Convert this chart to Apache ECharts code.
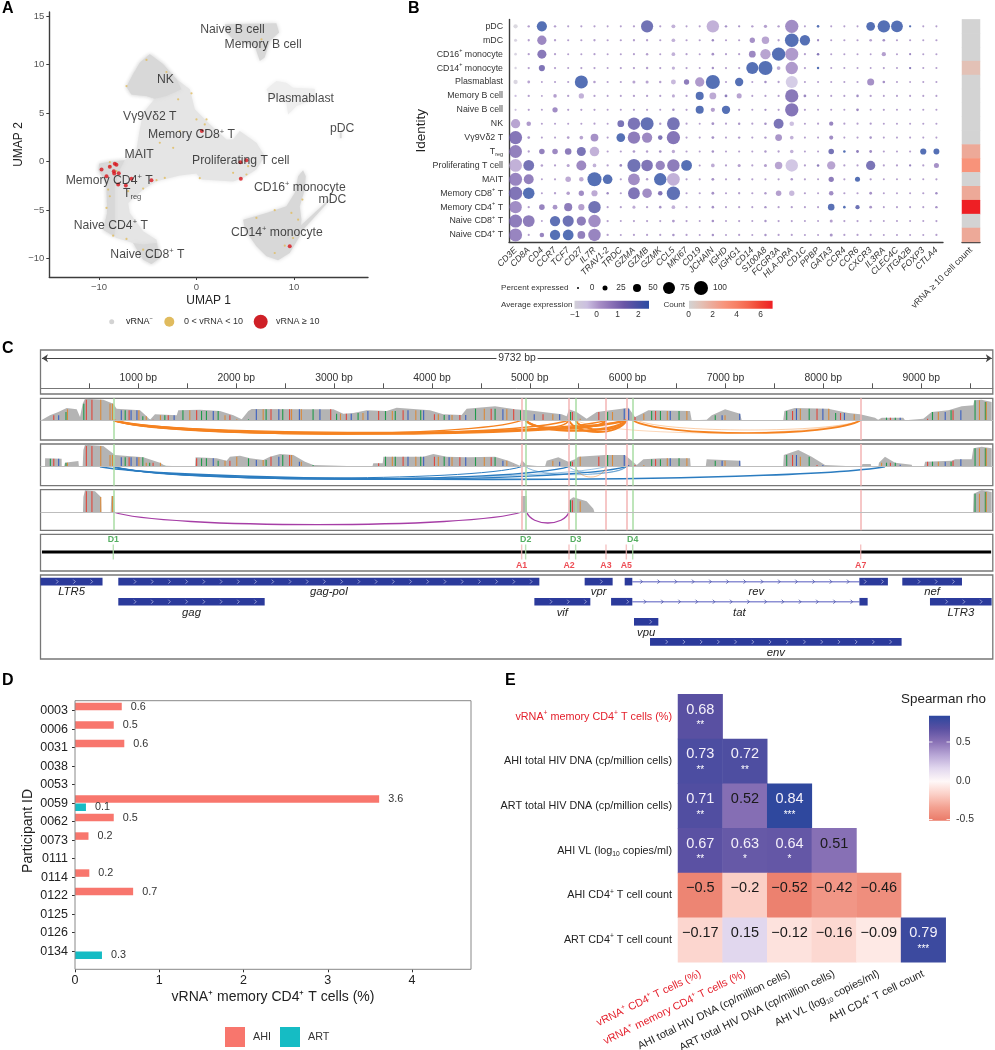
<!DOCTYPE html>
<html>
<head>
<meta charset="utf-8">
<style>
html, body { margin: 0; padding: 0; background: #fff; }
#main { width: 995px; height: 1050px; }
</style>
<script src="https://cdn.jsdelivr.net/npm/echarts@6/dist/echarts.min.js"></script>
</head>
<body>
<div id="main"></div>
<script>
var FONT = '"Liberation Sans", Arial, sans-serif';

/* ---------- panel A: UMAP ---------- */
var cloudLight = [
	[[-4.79,11.04],[-5.81,10.18],[-6.5,8.98],[-7.18,7.71],[-6.67,6.91],[-5.13,6.74],[-4.27,6.47],[-5.47,5.02],[-5.88,2.96],[-6.15,1.24],[-7.35,0.14],[-8.89,-0.03],[-9.98,-0.24],[-10.05,-0.89],[-9.23,-2.2],[-9.16,-5.3],[-9.57,-7.02],[-8.21,-7.88],[-6.5,-8.39],[-5.47,-10.11],[-4.62,-10.56],[-3.76,-9.94],[-4.1,-8.05],[-5.47,-7.19],[-6.84,-5.3],[-7.01,-4.27],[-5.47,-2.89],[-4.1,-2.03],[-1.71,-1.44],[0,-1.24],[0.51,-1.86],[3.76,-2.06],[4.79,-1.69],[6.15,-0.83],[7.01,0.55],[6.15,1.93],[4.44,3.13],[3.76,2.27],[3.08,2.27],[1.2,3.99],[-0.17,5.37],[-0.68,7.43],[-2.05,8.46],[-3.42,10.01]]
];
var cloudDense = [
	[[-4.79,11.04],[-5.81,10.18],[-6.5,8.98],[-7.18,7.71],[-6.67,6.91],[-5.13,6.74],[-4.27,6.47],[-3.08,6.74],[-1.54,7.43],[-2.05,8.46],[-3.42,10.01]],
	[[-9.98,-0.24],[-8.89,-0.03],[-7.35,0.14],[-7.86,-0.83],[-8.38,-2.55],[-8.38,-5.3],[-8.38,-7.71],[-9.57,-7.02],[-9.16,-5.3],[-9.23,-2.2],[-10.05,-0.89]],
	[[-6.5,-8.39],[-5.47,-10.11],[-4.62,-10.56],[-3.76,-9.94],[-4.1,-8.39],[-5.47,-8.56]],
	[[2.91,14.14],[8.2,14.24],[8.48,13.28],[7.52,12.42],[7.0,10.7],[6.5,10.35],[5.98,11.9],[3.76,12.59],[3.08,13.28]],
	[[10.94,-0.89],[10.43,-1.51],[10.09,-3.23],[9.23,-4.61],[7.18,-5.3],[4.79,-5.99],[4.97,-7.02],[6.15,-8.74],[7.18,-9.77],[8.38,-10.18],[9.57,-9.43],[10.6,-7.7],[10.77,-5.99],[10.6,-4.61],[11.11,-2.89],[11.21,-1.51]],
	[[10.77,-7.2],[13.7,-4.0],[13.7,-3.8],[10.6,-6.7]],
	[[14.7,3.0],[14.9,3.0],[14.9,2.4],[14.7,2.4]]
];
var cloudSparse = [
	[[7.18,7.43],[8.2,8.29],[9.23,8.12],[9.91,7.6],[12.14,7.5],[12.14,6.4],[10.26,5.71],[9.4,4.85],[9.23,6.05],[7.52,6.74]]
];
var vrnaLow = [[-5.13,10.46],[-3.08,9.22],[-7.18,7.77],[-0.51,7.02],[-1.88,6.4],[0,4.33],[1.03,4.33],[0.85,3.82],[-1.71,3.13],[-3.76,1.93],[-2.39,1.41],[-8.89,-0.07],[-8.89,-0.48],[-8.21,-1.0],[-9.06,-2.89],[-8.89,-3.58],[-9.23,-4.78],[-7.01,-3.06],[-5.47,-2.79],[-4.1,-1.93],[-3.25,-1.69],[0.34,-1.72],[3.76,-1.17],[5.13,-1.34],[5.3,-0.48],[10.87,-3.92],[10.43,-5.99],[9.74,-5.3],[8.03,-5.02],[6.15,-5.81],[9.06,-8.67],[9.91,-7.88],[8.03,-9.43],[-8.55,-7.64],[-7.18,-7.98],[-5.47,-9.08],[6.67,12.59]];
var vrnaHigh = [[-9.74,-0.83],[-8.89,-0.55],[-8.38,-0.24],[-8.21,-0.34],[-8.48,-1.0],[-8.44,-1.24],[-7.97,-1.2],[-9.23,-1.51],[-8.03,-2.37],[-6.67,-1.79],[-7.25,-2.48],[-4.62,-1.93],[0.55,3.13],[4.51,-0.07],[5.13,0.14],[4.55,-1.79],[9.57,-8.74]];
var umapLabels = [[3.69,13.55,'Naive B cell'],[6.84,12.0,'Memory B cell'],[-3.18,8.46,'NK'],[10.7,6.47,'Plasmablast'],[-4.79,4.61,'Vγ9Vδ2 T'],[14.94,3.41,'pDC'],[-0.51,2.72,'Memory CD8^+^ T'],[-5.88,0.72,'MAIT'],[4.55,0.1,'Proliferating T cell'],[-8.96,-1.93,'Memory CD4^+^ T'],[-6.6,-3.3,'T_reg_'],[10.6,-2.65,'CD16^+^ monocyte'],[13.95,-3.96,'mDC'],[-8.79,-6.64,'Naive CD4^+^ T'],[8.24,-7.29,'CD14^+^ monocyte'],[-5.03,-9.6,'Naive CD8^+^ T']];

/* ---------- panel B: dot plot ---------- */
var genes = ['CD3E','CD8A','CD4','CCR7','TCF7','CD27','IL7R','TRAV1-2','TRDC','GZMA','GZMB','GZMK','CCL5','MKI67','CD19','JCHAIN','IGHD','IGHG1','CD14','S100A8','FCGR3A','HLA-DRA','CD1C','PPBP','GATA3','CCR4','CCR6','CXCR3','IL3RA','CLEC4C','ITGA2B','FOXP3','CTLA4'];
var identities = ['pDC','mDC','CD16^+^ monocyte','CD14^+^ monocyte','Plasmablast','Memory B cell','Naive B cell','NK','Vγ9Vδ2 T','T_reg_','Proliferating T cell','MAIT','Memory CD8^+^ T','Memory CD4^+^ T','Naive CD8^+^ T','Naive CD4^+^ T'];
var pctExpressed = [
	[20,5,67,5,3,3,3,2,2,4, 83,3,17,2,3,85,5,4,5,12, 5,92,2,6,2,2,2,55,85,80, 4,2,2],
	[10,4,60,4,3,3,4,3,3,4, 4,3,15,3,3,5,3,3,28,45, 4,95,68,4,2,3,3,7,7,3, 3,2,3],
	[7,4,58,3,2,2,3,2,2,3, 5,2,15,3,2,7,3,3,40,68, 92,90,3,6,2,2,2,1,20,2, 3,2,2],
	[5,4,35,3,2,3,3,2,3,4, 5,3,12,3,2,5,3,3,82,98, 15,85,3,5,2,2,2,1,3,2, 4,2,2],
	[20,8,1,2,3,90,6,3,3,10, 10,5,25,28,60,98,3,52,2,6, 4,82,2,3,2,2,3,42,7,2, 1,2,2],
	[4,4,1,14,4,28,3,2,2,4, 4,3,10,3,50,40,8,26,2,3, 3,92,8,2,2,2,6,4,2,2, 2,2,2],
	[3,3,2,28,3,3,3,2,2,3, 3,2,6,3,50,20,52,3,2,4, 3,92,3,2,2,2,7,2,3,2, 2,2,2],
	[60,22,2,2,2,2,3,2,40,85, 90,5,88,3,2,8,3,5,3,6, 65,22,2,3,20,3,3,4,2,2, 2,2,2],
	[90,7,2,2,7,15,48,3,55,85, 68,22,92,3,3,8,3,5,3,5, 40,15,2,2,18,2,3,6,2,2, 2,2,2],
	[88,4,30,30,38,58,62,3,3,7, 5,7,12,3,2,6,2,3,2,5, 4,14,2,2,30,6,8,8,3,2, 3,35,33],
	[88,72,6,3,10,65,15,4,7,90, 78,60,85,72,2,15,3,10,3,10, 45,85,3,6,52,3,3,60,3,3, 4,3,26],
	[90,65,2,3,30,22,98,62,3,80, 5,85,88,3,3,8,3,5,3,3, 3,6,3,2,28,3,26,4,2,2, 2,2,3],
	[92,78,2,4,14,28,35,5,3,80, 62,22,92,3,3,8,3,4,3,5, 30,28,3,2,22,3,3,8,2,2, 2,3,5],
	[85,4,30,24,50,35,85,3,3,10, 4,6,15,3,2,6,2,3,2,5, 3,4,2,2,38,6,20,8,2,2, 2,2,5],
	[90,80,1,68,75,60,85,4,2,3, 3,3,8,3,2,6,2,3,2,5, 3,3,2,2,10,3,3,3,2,2, 2,2,3],
	[90,3,22,68,72,48,85,4,2,3, 3,3,6,3,2,5,2,3,2,5, 3,3,2,2,10,3,3,3,2,2, 2,2,3]
];
var avgExpression = [
	[-1.2,0,2,0,0,0,0,0,0,0, 1.4,0,-0.3,0,0,-0.3,0.3,0.2,0,0, 0,0.4,0,2,0,0,0,2,2,2, 2,0,0],
	[-1,0,0.5,0,0,0,0,0,0,0, 0,0,-0.3,0,0,0.5,0,0,0.3,-0.1, 0,2,2,0.5,0,0,0,-0.1,0.3,0, 0,0,0],
	[-1,0,0.9,0,0,0,0,0,0,0, 0,0,-0.3,0,0,0.3,0,0,0.5,-0.1, 2,0.1,0,1,0,0,0,0,0,0, 0.5,0,0],
	[-1,0,1.1,0,0,0,0,0,0,0, 0,0,-0.3,0,0,0.3,0,0,2,2, -0.2,0.1,0,2,0,0,0,0,0,0, 1,0,0],
	[-1.1,-0.1,0,0,0,2,0,0,0,-0.1, -0.1,0,-0.4,0.8,0.1,2,0,2,0,0.3, 0,-0.7,0,0,0,0,0,0.3,0.3,0, 0,0,0],
	[-0.5,0,0,0,0,-0.3,0,0,0,0, 0,0,-0.2,0,2,-0.2,0.8,-0.1,0,0, 0,0.9,0.5,0,0,0,0.4,0,0,0, 0,0,0],
	[-0.5,0,0,0.4,0,0,0,0,0,0, 0,0,0.2,0,2,0,2,0,0,0.3, 0,1,0,0,0,0,0.5,0,0,0, 0,0,0],
	[-0.1,0.1,0,0,0,0,0,0,1.2,1.2, 1.7,0,1.3,0,0,0.3,0,0.2,0,0.3, 1.2,-0.5,0,0,0.6,0,0,0.1,0,0, 0,0,0],
	[1,0.1,0,0,0,-0.1,0.3,0,2,0.8, 0.5,1.1,1,0,0,0.3,0,0.1,0,0.1, 0.2,-0.3,0,0,0.4,0,0,0.2,0,0, 0,0,0],
	[0.7,0,0.7,0.5,0.8,1.2,-0.3,0,0,0.1, 0,0.3,-0.2,0,0,0.3,0,0,0,0.1, 0,-0.3,0,0,1.3,2,0.8,0.4,0,0, 0,2,2],
	[-0.3,1.3,0,0,-0.1,0.5,-0.3,0,0.5,1.4, 1.1,0.6,0.8,2,0,-0.2,0,0,0,0, -0.1,-0.6,0,0.8,-0.1,0,0,1.2,0,0, 0.6,0,0.3],
	[0.6,0.7,0,0,-0.2,-0.2,2,2,0,0.4, 0,2,-0.3,0,0,0.3,0,0.1,0,0, 0,0.1,0,0,0.8,0,2,0.1,0,0, 0,0,0],
	[1.1,2,0,0,0,0.4,-0.2,0.5,0,1.1, 0.4,1,1.8,0,0,0.3,0,0,0,0.1, 0,-0.4,0,0,0.4,0,0,0.3,0,0, 0,0,0.4],
	[0.4,0,0.6,0.2,0.8,0,1.4,0,0,-0.2, 0,0.3,-0.3,0,0,0.3,0,0,0,0.2, 0,0,0,0,1.9,2,1.5,0.2,0,0, 0,0,0.3],
	[0.8,0.8,0,1.8,1.5,0.8,0.4,0,0,0, 0,0,0.1,0,0,0.3,0,0,0,0.2, 0,0,0,0,0,0,0,0,0,0, 0,0,0],
	[0.6,0,0.6,2,2,0.7,0.6,0,0,0, 0,0,0.2,0,0,0.3,0,0,0,0.2, 0,0,0,0,0.2,0,0,0,0,0, 0,0,0]
];
var cellCounts = [0,0,0,1,0,0,0,0,0,2,3,0,2,7,0,2];

/* ---------- panel C: HIV genome tracks ---------- */
var donorSites = [744,4958,5469,6052];
var donorNames = ['D1','D2','D3','D4'];
var acceptorSites = [4917,5401,5779,5987,8382];
var acceptorNames = ['A1','A2','A3','A5','A7'];
var coverage1 = [[12,1],[97,15],[182,25],[267,37],[370,33],[404,10],[431,50],[455,65],[642,62],[744,50],[778,35],[1017,30],[1085,12],[1119,2],[1170,18],[1392,15],[1408,30],[1630,32],[1834,28],[1971,15],[2056,3],[2124,28],[2158,34],[2720,33],[2993,33],[3095,20],[3197,22],[3333,30],[3538,28],[3640,38],[3980,30],[4116,18],[4304,16],[4355,35],[4645,42],[4849,33],[4985,30],[5326,18],[5377,12],[5401,33],[5479,25],[5581,5],[5684,25],[5940,35],[6008,38],[6076,10],[6143,20],[6212,30],[6638,28],[6655,0],[6808,2],[6860,15],[6996,33],[7149,20],[7166,0],[7590,0],[7602,28],[7709,37],[8050,35],[8255,22],[8375,18],[8528,8],[8560,2],[8597,8],[8817,8],[8835,0],[9022,5],[9107,25],[9278,30],[9414,42],[9533,45],[9543,60],[9618,62],[9720,55]];
var coverage2 = [[46,0],[47,25],[216,24],[217,0],[240,0],[250,12],[387,17],[393,0],[431,0],[438,50],[455,66],[642,62],[761,35],[1051,28],[1221,12],[1272,3],[1279,0],[1579,0],[1585,28],[1800,25],[1902,18],[1936,30],[2039,33],[2141,25],[2277,20],[2345,30],[2447,38],[2584,35],[2703,15],[2788,5],[2795,0],[3391,0],[3401,10],[3497,10],[3504,30],[3912,30],[4015,38],[4151,30],[4355,28],[4645,30],[4781,18],[4900,3],[4917,20],[4968,5],[5155,0],[5173,18],[5292,28],[5394,15],[5462,22],[5496,30],[5769,35],[5973,35],[6093,5],[6161,22],[6348,25],[6638,25],[6645,0],[6798,0],[6808,22],[7149,18],[7155,0],[7590,0],[7596,35],[7745,50],[7881,30],[8018,5],[8025,0],[8393,0],[8399,8],[8485,8],[8491,0],[8562,0],[8569,12],[8630,30],[8733,12],[8903,6],[8910,0],[9029,0],[9040,15],[9312,18],[9346,22],[9516,22],[9533,55],[9618,60],[9720,55]];
var coverage3 = [[434,0],[438,45],[455,66],[557,62],[618,45],[622,0],[717,0],[724,48],[751,48],[755,0],[4910,0],[4914,48],[4968,48],[4972,0],[5398,0],[5401,35],[5445,44],[5581,32],[5650,10],[5660,0],[9530,0],[9536,55],[9618,66],[9720,60]];
var baseGreen = [95,255,437,860,1040,1110,1265,1450,1640,1690,1810,2120,2300,2470,2780,3020,3240,3520,3620,3880,4120,4440,4640,4900,5410,5790,6240,6330,6520,6890,7620,7850,8120,8640,8730,9110,9300,9545,9650];
var baseBlue = [180,820,920,980,1360,1760,2200,2430,2640,2850,3170,3340,3750,3910,4170,4340,4720,5040,5300,5960,6005,6430,6960,7140,7720,7990,8210,8780,9240,9400];
var baseOrange = [270,610,705,730,1000,1075,1220,1520,1880,2000,2270,2560,2660,3060,3290,3590,3830,4060,4200,4530,4760,5230,5510,5840,6160,6400,6600,6990,7760,8050,8310,8590,9170,9590,9660];
var baseRed = [130,463,520,900,1145,1300,1590,1930,2350,2540,2960,3120,3450,3700,4020,4280,4600,4830,5130,5430,5700,6070,6280,6760,7680,7930,8170,8680,9060,9320];
// start, end, depth, width, alpha, colour index
var arcs1 = [[744,4917,40,1.2,1,0],[744,5401,41,1.6,1,0],[744,5779,38,1.4,1,0],[744,5987,40,2.4,1,0],[744,5987,36,1.4,1,0],[4958,5401,21,1.4,1,0],[4958,5779,26,1.4,1,0],[4958,5987,31,2.2,1,0],[5469,5779,19,1.4,1,0],[5469,5987,28,1.8,1,0],[5401,5987,35,1.8,1,0],[6052,8382,38,1.7,1,0],[6100,8382,29,0.8,0.5,0],[5469,8382,38,0.8,0.4,0]];
var arcs2 = [[608,8630,38,1.6,1,1],[744,4917,34,1,1,1],[744,5401,37,1.2,1,1],[744,5779,35,0.8,0.6,1],[744,5987,38,1.3,1,1],[4958,5987,24,0.8,0.7,1],[5469,5779,31,0.8,0.6,0],[5401,5987,19,0.8,0.6,1]];
var arcs3 = [[744,4917,38,1.3,1,2],[4968,5401,33,1.3,1,2]];
var hivGenes = ['LTR5','gag-pol','gag','vif','vpr','rev','tat','vpu','env','nef','LTR3'];
var geneRows = [0,0,1,1,0,0,1,2,3,0,1];
var geneExons = [[[0,634]],[[795,5098]],[[795,2291]],[[5047,5619]],[[5561,5847]],[[5970,6048],[8368,8660]],[[5831,6048],[8369,8453]],[[6065,6314]],[[6229,8800]],[[8807,9417]],[[9090,9720]]];

/* ---------- panel D: bars ---------- */
var participants = ['0003','0006','0031','0038','0053','0059','0062','0073','0111','0114','0122','0125','0126','0134'];
var ahiPercent = [0.555,0.46,0.585,null,null,3.61,0.46,0.16,null,0.17,0.69,null,null,null];
var artPercent = [null,null,null,null,null,0.13,null,null,null,null,null,null,null,0.32];

/* ---------- panel E: correlation ---------- */
var corrRows = ['vRNA^+^ memory CD4^+^ T cells (%)','AHI total HIV DNA (cp/million cells)','ART total HIV DNA (cp/million cells)','AHI VL (log_10_ copies/ml)','AHI CD4^+^ T cell count','ART CD4^+^ T cell count'];
var corrCols = ['vRNA^+^ CD4^+^ T cells (%)','vRNA^+^ memory CD4^+^ T cells (%)','AHI total HIV DNA (cp/million cells)','ART total HIV DNA (cp/million cells)','AHI VL (log_10_ copies/ml)','AHI CD4^+^ T cell count'];
var corrValues = [
	[0.68],
	[0.73,0.72],
	[0.71,0.52,0.84],
	[0.67,0.63,0.64,0.51],
	[-0.5,-0.2,-0.52,-0.42,-0.46],
	[-0.17,0.15,-0.12,-0.16,-0.09,0.79]
];
var corrStars = [
	['**'],
	['**','**'],
	['**','','***'],
	['**','*','*',''],
	['','','','',''],
	['','','','','','***']
];

var dotColours = ['#d2cfd8','#cbbfe0','#a88fc6','#8a70b6','#6a55a6','#4a4fa3','#2b4ca3'];
var countColours = ['#d3d3d3','#e3c1b6','#eda998','#f8937a','#f77f64','#f5644c','#f04030','#ee1f24'];
var rhoColours = ['#ea7a68','#f3a090','#fbcfc6','#fff8f8','#e1d7ee','#b8a6d6','#8a72b6','#5a50a2','#2c479e'];
var arcColours = ['#f58220','#2b7cc0','#a63ea6'];
var stripeColours = ['#1f9a4a','#3a5fc0','#d98a3c','#e0453a'];

// 'CD4^+^' is a superscript and 'T_reg_' a subscript in the rich text
function rich(s, base) {
	var parts = s.split(/(\^[^^]*\^|_[^_]*_)/);
	var out = '';
	for (var i = 0; i < parts.length; i++) {
		var p = parts[i];
		if (!p) continue;
		if (p.charAt(0) == '^') out += '{' + base + 'Sup|' + p.slice(1, -1) + '}';
		else if (p.charAt(0) == '_') out += '{' + base + 'Sub|' + p.slice(1, -1) + '}';
		else out += '{' + base + '|' + p + '}';
	}
	return out;
}
function richStyle(target, base, size, colour) {
	target[base] = { fontSize: size, color: colour, fontFamily: FONT, lineHeight: size + 3 };
	target[base + 'Sup'] = { fontSize: size * 0.62, color: colour, fontFamily: FONT, verticalAlign: 'top', lineHeight: size * 0.62 };
	target[base + 'Sub'] = { fontSize: size * 0.62, color: colour, fontFamily: FONT, verticalAlign: 'bottom', lineHeight: size * 0.62 };
	return target;
}
function minusSign(v) {
	return String(v).replace('-', '−');
}

/* ---------- custom renderers ---------- */
var cloudShapes = { cloudLight: cloudLight, cloudDense: cloudDense, cloudSparse: cloudSparse };
var cloudFills = { cloudLight: '#e5e5e5', cloudDense: '#d8d8d8', cloudSparse: '#eeeeee' };
function renderPolygon(params, api) {
	var pts = cloudShapes[params.seriesName][params.dataIndex];
	var coords = [];
	for (var i = 0; i < pts.length; i++) coords.push(api.coord(pts[i]));
	var fill = cloudFills[params.seriesName];
	return {
		type: 'polygon',
		shape: { points: coords },
		style: { fill: fill, shadowBlur: 4, shadowColor: fill }
	};
}
function renderArc(params, api) {
	var s = api.coord([api.value(0), 0]);
	var e = api.coord([api.value(1), 0]);
	var low = api.coord([api.value(0), -api.value(2)]);
	var c = (low[1] - s[1]) / 0.75;
	var dx = e[0] - s[0];
	return {
		type: 'bezierCurve',
		shape: { x1: s[0], y1: s[1], x2: e[0], y2: e[1], cpx1: s[0] + dx * 0.12, cpy1: s[1] + c, cpx2: e[0] - dx * 0.12, cpy2: e[1] + c },
		style: { fill: 'none', stroke: arcColours[api.value(5)], lineWidth: api.value(3), opacity: api.value(4) }
	};
}
function renderStripe(params, api) {
	var top = api.coord([api.value(0), api.value(1)]);
	var bottom = api.coord([api.value(0), 0]);
	return {
		type: 'rect',
		shape: { x: top[0], y: top[1], width: 1.1, height: bottom[1] - top[1] },
		style: { fill: stripeColours[api.value(2)] }
	};
}
function renderGene(params, api) {
	var exons = geneExons[params.dataIndex];
	var row = api.value(2);
	var start = api.value(0), end = api.value(1);
	var y = api.coord([start, row])[1];
	var kids = [];
	if (exons.length > 1) {
		var a = api.coord([exons[0][1], row]), b = api.coord([exons[1][0], row]);
		kids.push({ type: 'line', shape: { x1: a[0], y1: y, x2: b[0], y2: y }, style: { stroke: '#8d90d4', lineWidth: 1.5 } });
	}
	for (var i = 0; i < exons.length; i++) {
		var p0 = api.coord([exons[i][0], row]), p1 = api.coord([exons[i][1], row]);
		kids.push({ type: 'rect', shape: { x: p0[0], y: y - 3.8, width: p1[0] - p0[0], height: 7.6 }, style: { fill: '#2b3a9b' } });
	}
	for (var bp = start + 170; bp < end - 15; bp += 176) {
		var x = api.coord([bp, row])[0];
		var inExon = false;
		for (var j = 0; j < exons.length; j++) {
			if (bp >= exons[j][0] && bp <= exons[j][1]) inExon = true;
		}
		kids.push({
			type: 'polyline',
			shape: { points: [[x - 1, y - 2], [x + 1, y], [x - 1, y + 2]] },
			style: { fill: 'none', stroke: inExon ? '#aeb4e0' : '#3f479f', lineWidth: 0.8 }
		});
	}
	var mid = (api.coord([start, row])[0] + api.coord([end, row])[0]) / 2;
	kids.push({
		type: 'text',
		style: { text: hivGenes[params.dataIndex], x: mid, y: y + 10.7, align: 'center', verticalAlign: 'middle', font: 'italic 11.3px ' + FONT, fill: '#222' }
	});
	return { type: 'group', children: kids };
}

/* ---------- series data ---------- */
var dotData = [];
for (var r = 0; r < identities.length; r++) {
	for (var c = 0; c < genes.length; c++) {
		dotData.push([c, r, avgExpression[r][c], pctExpressed[r][c]]);
	}
}
var stripData = [];
for (var i = 0; i < cellCounts.length; i++) stripData.push([0, i, cellCounts[i]]);

var heatData = [];
for (var r2 = 0; r2 < corrValues.length; r2++) {
	for (var c2 = 0; c2 < corrValues[r2].length; c2++) {
		heatData.push([c2, r2, corrValues[r2][c2], corrStars[r2][c2]]);
	}
}

function heightAt(cov, bp) {
	for (var i = 1; i < cov.length; i++) {
		if (bp <= cov[i][0]) {
			if (bp < cov[0][0]) return 0;
			return Math.min(cov[i - 1][1], cov[i][1]);
		}
	}
	return 0;
}
function stripesFor(cov) {
	var lists = [baseGreen, baseBlue, baseOrange, baseRed];
	var out = [];
	for (var k = 0; k < lists.length; k++) {
		for (var i = 0; i < lists[k].length; i++) {
			var h = heightAt(cov, lists[k][i]);
			if (h > 0) out.push([lists[k][i], h, k]);
		}
	}
	return out;
}
function siteLines() {
	var d = [];
	for (var i = 0; i < donorSites.length; i++) d.push({ xAxis: donorSites[i], lineStyle: { color: '#a9dca3', width: 1.5, type: 'solid' } });
	for (var j = 0; j < acceptorSites.length; j++) d.push({ xAxis: acceptorSites[j], lineStyle: { color: '#f3b4b4', width: 1.5, type: 'solid' } });
	d.push({ yAxis: 0, lineStyle: { color: '#bdbdbd', width: 1, type: 'solid' } });
	return d;
}

/* ---------- grids and axes ---------- */
var grids = [
	{ left: 49.3, top: 12, width: 318.7, height: 265 },       // A
	{ left: 509, top: 19.4, width: 434, height: 222.5 },      // B dots
	{ left: 962, top: 19.4, width: 18, height: 222.5 },       // B strip
	{ left: 40.5, top: 350, width: 952.3, height: 44, show: true, borderColor: '#777', borderWidth: 1.3 },     // C ruler
	{ left: 40.5, top: 398.3, width: 952.3, height: 41.7, show: true, borderColor: '#777', borderWidth: 1.3 }, // track 1
	{ left: 40.5, top: 444, width: 952.3, height: 41.7, show: true, borderColor: '#777', borderWidth: 1.3 },   // track 2
	{ left: 40.5, top: 489.7, width: 952.3, height: 40.6, show: true, borderColor: '#777', borderWidth: 1.3 }, // track 3
	{ left: 40.5, top: 534.3, width: 952.3, height: 36.7, show: true, borderColor: '#777', borderWidth: 1.3 }, // sites
	{ left: 40.5, top: 575, width: 952.3, height: 84, show: true, borderColor: '#777', borderWidth: 1.3 },     // genes
	{ left: 75, top: 701.4, width: 396, height: 259 },        // D
	{ left: 678, top: 694.3, width: 267.7, height: 268 }      // E
];
// keep the grids where they are put, labels may run close to the page edge
for (var g = 0; g < grids.length; g++) grids[g].outerBoundsMode = 'none';

var darkAxis = { lineStyle: { color: '#3c3c3c', width: 1.4 } };

function hiddenX(idx) {
	return { gridIndex: idx, type: 'value', min: 0, max: 9732, show: false };
}
function hiddenY(idx, lo, hi, inv) {
	return { gridIndex: idx, type: 'value', min: lo, max: hi, show: false, inverse: !!inv };
}

var xAxes = [
	{
		gridIndex: 0, type: 'value', min: -15.1, max: 17.6, position: 'bottom',
		name: 'UMAP 1', nameLocation: 'middle', nameGap: 18, nameTextStyle: { fontSize: 12, color: '#222', fontFamily: FONT },
		axisLine: { onZero: false, lineStyle: { color: '#3c3c3c', width: 1.4 } }, axisTick: { customValues: [-10, 0, 10], length: 3, lineStyle: { color: '#3c3c3c' } }, splitLine: { show: false },
		axisLabel: { customValues: [-10, 0, 10], fontSize: 9.5, color: '#555', margin: 5, formatter: minusSign }
	},
	{
		gridIndex: 1, type: 'category', data: genes, position: 'bottom',
		axisLine: darkAxis, axisTick: { alignWithLabel: true, length: 2.5, lineStyle: { color: '#3c3c3c' } },
		axisLabel: { interval: 0, rotate: 45, fontSize: 8.8, fontStyle: 'italic', color: '#333', margin: 7 }
	},
	{
		gridIndex: 2, type: 'category', data: ['vRNA ≥ 10 cell count'], position: 'bottom',
		axisLine: darkAxis, axisTick: { alignWithLabel: true, length: 2.5, lineStyle: { color: '#3c3c3c' } },
		axisLabel: { interval: 0, rotate: 45, fontSize: 8.8, color: '#333', margin: 7 }
	},
	{
		gridIndex: 3, type: 'value', min: 0, max: 9732, interval: 500,
		axisLine: { onZero: true, lineStyle: { color: '#777', width: 1 } },
		axisTick: { inside: true, length: 5, lineStyle: { color: '#555', width: 1 } }, splitLine: { show: false },
		axisLabel: {
			inside: true, margin: 11, fontSize: 10.4, color: '#333', showMinLabel: false, showMaxLabel: false,
			formatter: function(v) { return (v > 0 && v % 1000 == 0) ? v + ' bp' : ''; }
		}
	},
	hiddenX(4), hiddenX(5), hiddenX(6), hiddenX(7), hiddenX(8),
	{
		gridIndex: 9, type: 'value', min: 0, max: 4.7, interval: 1, position: 'bottom', offset: 8.9,
		name: 'vRNA⁺ memory CD4⁺ T cells (%)', nameLocation: 'middle', nameGap: 21, nameTextStyle: { fontSize: 14, color: '#222', fontFamily: FONT },
		axisLine: { show: false }, axisTick: { show: true, length: 3, lineStyle: { color: '#333' } }, splitLine: { show: false },
		axisLabel: { fontSize: 12.5, color: '#222', margin: 5, showMaxLabel: false, formatter: function(v) { return v > 4 ? '' : v; } }
	},
	{
		gridIndex: 10, type: 'category', data: corrCols, position: 'bottom',
		axisLine: { show: false }, axisTick: { show: false },
		axisLabel: {
			interval: 0, rotate: 26, margin: 11,
			formatter: function(v) { return rich(v, v.indexOf('vRNA') == 0 ? 'red' : 'blk'); },
			rich: richStyle(richStyle({}, 'red', 10.8, '#e4202c'), 'blk', 10.8, '#222')
		}
	}
];
var yAxes = [
	{
		gridIndex: 0, type: 'value', min: -11.9, max: 15.4,
		name: 'UMAP 2', nameLocation: 'middle', nameGap: 22, nameTextStyle: { fontSize: 12, color: '#222', fontFamily: FONT },
		axisLine: { show: true, onZero: false, lineStyle: { color: '#3c3c3c', width: 1.4 } }, axisTick: { show: true, customValues: [-10, -5, 0, 5, 10, 15], length: 3, lineStyle: { color: '#3c3c3c' } }, splitLine: { show: false },
		axisLabel: { customValues: [-10, -5, 0, 5, 10, 15], fontSize: 9.5, color: '#555', margin: 5, formatter: minusSign }
	},
	{
		gridIndex: 1, type: 'category', data: identities, inverse: true,
		name: 'Identity', nameLocation: 'middle', nameGap: 81, nameTextStyle: { fontSize: 13.5, color: '#222', fontFamily: FONT },
		axisLine: darkAxis, axisTick: { alignWithLabel: true, length: 2.5, lineStyle: { color: '#3c3c3c' } },
		axisLabel: {
			interval: 0, margin: 6,
			formatter: function(v) { return rich(v, 'row'); },
			rich: richStyle({}, 'row', 8.8, '#333')
		}
	},
	{ gridIndex: 2, type: 'category', data: identities, inverse: true, show: false },
	hiddenY(3, -5.7, 38.3),
	hiddenY(4, -59, 66), hiddenY(5, -57, 68), hiddenY(6, -55, 67), hiddenY(7, -57, 53),
	hiddenY(8, -0.33, 3.85, true),
	{
		gridIndex: 9, type: 'category', data: participants, inverse: true,
		name: 'Participant ID', nameLocation: 'middle', nameGap: 40, nameTextStyle: { fontSize: 14, color: '#222', fontFamily: FONT },
		axisLine: { show: false }, axisTick: { show: true, alignWithLabel: true, length: 3, lineStyle: { color: '#333' } },
		axisLabel: { interval: 0, fontSize: 12.5, color: '#222', margin: 7, padding: [2, 0, 0, 0] }
	},
	{
		gridIndex: 10, type: 'category', data: corrRows, inverse: true,
		axisLine: { show: false }, axisTick: { show: false },
		axisLabel: {
			interval: 0, margin: 6,
			formatter: function(v) { return rich(v, v.indexOf('vRNA') == 0 ? 'red' : 'blk'); },
			rich: richStyle(richStyle({}, 'red', 10.8, '#e4202c'), 'blk', 10.8, '#222')
		}
	}
];

/* ---------- series ---------- */
function firstPoints(list) {
	return list.map(function(p) { return [p[0][0], p[0][1]]; });
}
var series = [
	{ name: 'cloudLight', type: 'custom', xAxisIndex: 0, yAxisIndex: 0, renderItem: renderPolygon, data: firstPoints(cloudLight), silent: true },
	{ name: 'cloudDense', type: 'custom', xAxisIndex: 0, yAxisIndex: 0, renderItem: renderPolygon, data: firstPoints(cloudDense), silent: true },
	{ name: 'cloudSparse', type: 'custom', xAxisIndex: 0, yAxisIndex: 0, renderItem: renderPolygon, data: firstPoints(cloudSparse), silent: true },
	{ name: '0 < vRNA < 10', type: 'scatter', xAxisIndex: 0, yAxisIndex: 0, data: vrnaLow, symbolSize: 2.2, itemStyle: { color: '#e0bb5e' }, silent: true },
	{ name: 'vRNA ≥ 10', type: 'scatter', xAxisIndex: 0, yAxisIndex: 0, data: vrnaHigh, symbolSize: 4, itemStyle: { color: '#d8141c' }, silent: true },
	{
		name: 'cell types', type: 'scatter', xAxisIndex: 0, yAxisIndex: 0, data: umapLabels, symbolSize: 0, silent: true, z: 5,
		label: {
			show: true, position: 'inside',
			formatter: function(p) { return rich(p.data[2], 'cell'); },
			rich: richStyle({}, 'cell', 12.2, '#1a1a1a')
		}
	},
	{
		name: 'dots', type: 'scatter', xAxisIndex: 1, yAxisIndex: 1, data: dotData, silent: true,
		symbolSize: function(v) { return 1.8 + 0.125 * v[3]; }
	},
	{ name: 'count', type: 'heatmap', xAxisIndex: 2, yAxisIndex: 2, data: stripData, silent: true },
	{
		name: 'ruler', type: 'line', xAxisIndex: 3, yAxisIndex: 3, data: [], silent: true,
		markLine: {
			silent: true, symbol: ['arrow', 'none'], symbolSize: 6, label: { show: false }, lineStyle: { color: '#444', width: 1, type: 'solid' },
			data: [
				[{ coord: [15, 30] }, { coord: [4660, 30] }],
				[{ coord: [9722, 30] }, { coord: [5080, 30] }]
			]
		}
	}
];

// coverage, mismatches and junction arcs of the three tracks
var trackCoverage = [coverage1, coverage2, coverage3];
var trackArcs = [arcs1, arcs2, arcs3];
for (var t = 0; t < 3; t++) {
	series.push({
		name: 'coverage' + t, type: 'line', xAxisIndex: 4 + t, yAxisIndex: 4 + t, data: trackCoverage[t], symbol: 'none', silent: true,
		lineStyle: { width: 0 }, itemStyle: { color: '#b4b4b4' }, areaStyle: { color: '#b4b4b4', opacity: 1 },
		markLine: { silent: true, symbol: 'none', label: { show: false }, data: siteLines() }
	});
	series.push({ name: 'mismatch' + t, type: 'custom', xAxisIndex: 4 + t, yAxisIndex: 4 + t, data: stripesFor(trackCoverage[t]), renderItem: renderStripe, silent: true, z: 3 });
	series.push({ name: 'arcs' + t, type: 'custom', xAxisIndex: 4 + t, yAxisIndex: 4 + t, data: trackArcs[t], renderItem: renderArc, silent: true, z: 4 });
}

series.push({
	name: 'genome', type: 'line', xAxisIndex: 7, yAxisIndex: 7, data: [[15, 0], [9715, 0]], symbol: 'none', silent: true,
	lineStyle: { color: '#000', width: 3 }
});
series.push({
	name: 'donors', type: 'scatter', xAxisIndex: 7, yAxisIndex: 7, silent: true, z: 5, symbol: 'rect', symbolSize: [1.4, 15],
	data: donorSites.map(function(s, i) { return { value: [s, 0], name: donorNames[i] }; }),
	itemStyle: { color: '#a9dca3' },
	label: { show: true, position: 'top', distance: 0, formatter: '{b}', fontSize: 8.8, fontWeight: 'bold', color: '#2a9a3a' }
});
series.push({
	name: 'acceptors', type: 'scatter', xAxisIndex: 7, yAxisIndex: 7, silent: true, z: 5, symbol: 'rect', symbolSize: [1.4, 15],
	data: acceptorSites.map(function(s, i) { return { value: [s, 0], name: acceptorNames[i] }; }),
	itemStyle: { color: '#f3b4b4' },
	label: { show: true, position: 'bottom', distance: 2, formatter: '{b}', fontSize: 8.8, fontWeight: 'bold', color: '#e8202a' }
});
series.push({
	name: 'genes', type: 'custom', xAxisIndex: 8, yAxisIndex: 8, renderItem: renderGene, silent: true,
	data: geneExons.map(function(ex, i) { return [ex[0][0], ex[ex.length - 1][1], geneRows[i]]; })
});

function barLabel(p) {
	return p.value == null ? '' : p.value.toFixed(1);
}
series.push({
	name: 'AHI', type: 'bar', xAxisIndex: 9, yAxisIndex: 9, data: ahiPercent, barWidth: 7.5, barGap: '9%', silent: true,
	itemStyle: { color: '#f8766d' },
	label: { show: true, position: 'right', distance: 9, fontSize: 10.8, color: '#333', formatter: barLabel }
});
series.push({
	name: 'ART', type: 'bar', xAxisIndex: 9, yAxisIndex: 9, data: artPercent, barWidth: 7.5, silent: true,
	itemStyle: { color: '#15bcc4' },
	label: { show: true, position: 'right', distance: 9, fontSize: 10.8, color: '#333', formatter: barLabel }
});
series.push({
	name: 'rho', type: 'heatmap', xAxisIndex: 10, yAxisIndex: 10, data: heatData, silent: true,
	label: {
		show: true,
		formatter: function(p) {
			var v = p.data[2];
			var cls = v >= 0.63 ? 'w' : 'k';
			var star = p.data[3] ? p.data[3] : ' ';
			return '{' + cls + '|' + minusSign(v) + '}\n{s|' + star + '}';
		},
		rich: {
			w: { fontSize: 14.5, color: '#f4f0fa', fontFamily: FONT, lineHeight: 18 },
			k: { fontSize: 14.5, color: '#1a1a1a', fontFamily: FONT, lineHeight: 18 },
			s: { fontSize: 10, color: '#fff', fontFamily: FONT, lineHeight: 14 }
		}
	}
});

var seriesIndex = {};
for (var si = 0; si < series.length; si++) seriesIndex[series[si].name] = si;

/* ---------- legends drawn by hand ---------- */
function txt(x, y, s, size, opts) {
	opts = opts || {};
	return {
		type: 'text', z: 20, silent: true, rotation: opts.rotation || 0, x: x, y: y,
		style: {
			text: s, x: 0, y: 0, align: opts.align || 'left', verticalAlign: 'middle', fill: opts.color || '#222',
			fontSize: size, fontFamily: FONT, fontWeight: opts.weight || 'normal', rich: opts.rich
		}
	};
}
function dot(x, y, d, colour) {
	return { type: 'circle', z: 20, silent: true, shape: { cx: x, cy: y, r: d / 2 }, style: { fill: colour } };
}
function box(x, y, w, h, fill, stroke) {
	return { type: 'rect', z: 20, silent: true, shape: { x: x, y: y, width: w, height: h }, style: { fill: fill, stroke: stroke || null, lineWidth: stroke ? 1 : 0 } };
}
function stops(list) {
	return list.map(function(c, i) { return { offset: i / (list.length - 1), color: c }; });
}

var graphics = [
	txt(2, 9, 'A', 16, { weight: 'bold', color: '#000' }),
	txt(408, 9, 'B', 16, { weight: 'bold', color: '#000' }),
	txt(2, 349, 'C', 16, { weight: 'bold', color: '#000' }),
	txt(2, 681, 'D', 16, { weight: 'bold', color: '#000' }),
	txt(505, 681, 'E', 16, { weight: 'bold', color: '#000' }),

	dot(111.7, 321.7, 5, '#d3d3d3'),
	txt(126, 321.7, '{x|vRNA}{xSup|−}', 9, { rich: richStyle({}, 'x', 9, '#333') }),
	dot(169.3, 321.7, 10, '#e0bb5e'),
	txt(184, 321.7, '0 < vRNA < 10', 9, { color: '#333' }),
	dot(260.7, 321.7, 14, '#cf2027'),
	txt(276, 321.7, 'vRNA ≥ 10', 9, { color: '#333' }),

	txt(501, 288, 'Percent expressed', 8.1, { color: '#333' }),
	dot(578, 288, 2, '#000'), txt(592, 288, '0', 8.4, { align: 'center', color: '#333' }),
	dot(605, 288, 5, '#000'), txt(621, 288, '25', 8.4, { align: 'center', color: '#333' }),
	dot(637, 288, 8, '#000'), txt(653, 288, '50', 8.4, { align: 'center', color: '#333' }),
	dot(669, 288, 12, '#000'), txt(685, 288, '75', 8.4, { align: 'center', color: '#333' }),
	dot(701, 288, 14, '#000'), txt(720, 288, '100', 8.4, { align: 'center', color: '#333' }),

	txt(501, 304.5, 'Average expression', 8.1, { color: '#333' }),
	box(574.5, 300.7, 74.5, 8, new echarts.graphic.LinearGradient(0, 0, 1, 0, stops(dotColours))),
	txt(575, 314.5, '−1', 8.4, { align: 'center', color: '#333' }),
	txt(596.6, 314.5, '0', 8.4, { align: 'center', color: '#333' }),
	txt(617.5, 314.5, '1', 8.4, { align: 'center', color: '#333' }),
	txt(638.4, 314.5, '2', 8.4, { align: 'center', color: '#333' }),
	txt(663.5, 304.5, 'Count', 8.1, { color: '#333' }),
	box(689, 300.7, 83.6, 8, new echarts.graphic.LinearGradient(0, 0, 1, 0, stops(countColours))),
	txt(688.6, 314.5, '0', 8.4, { align: 'center', color: '#333' }),
	txt(712.5, 314.5, '2', 8.4, { align: 'center', color: '#333' }),
	txt(736.5, 314.5, '4', 8.4, { align: 'center', color: '#333' }),
	txt(760.5, 314.5, '6', 8.4, { align: 'center', color: '#333' }),

	txt(517, 358.3, '9732 bp', 10.4, { align: 'center', color: '#333' }),

	box(75, 700.7, 396, 268.6, 'none', '#888'),

	txt(943.5, 699, 'Spearman rho', 13.4, { align: 'center', color: '#222' }),
	box(929, 715.7, 21, 105, new echarts.graphic.LinearGradient(0, 1, 0, 0, stops(rhoColours))),
	box(929, 741.6, 3.5, 0.8, '#fff'), box(946.5, 741.6, 3.5, 0.8, '#fff'),
	box(929, 819, 3.5, 0.8, '#fff'), box(946.5, 819, 3.5, 0.8, '#fff'),
	txt(956, 742, '0.5', 10.4, { color: '#333' }),
	txt(956, 780.7, '0.0', 10.4, { color: '#333' }),
	txt(956, 819, '-0.5', 10.4, { color: '#333' })
];

/* ---------- chart ---------- */
var myChart = echarts.init(document.getElementById('main'), null, { renderer: 'canvas' });
var option = {
	animation: false,
	backgroundColor: '#fff',
	textStyle: { fontFamily: FONT },
	grid: grids,
	xAxis: xAxes,
	yAxis: yAxes,
	legend: {
		data: ['AHI', 'ART'], left: 225, top: 1027, padding: 0, itemWidth: 20, itemHeight: 20, itemGap: 9, icon: 'rect',
		textStyle: { fontSize: 10.8, color: '#333', padding: [0, 0, 0, 3] }, selectedMode: false
	},
	visualMap: [
		{ show: false, type: 'continuous', seriesIndex: seriesIndex['dots'], dimension: 2, min: -1.2, max: 2, inRange: { color: dotColours } },
		{ show: false, type: 'continuous', seriesIndex: seriesIndex['count'], dimension: 2, min: 0, max: 7, inRange: { color: countColours } },
		{ show: false, type: 'continuous', seriesIndex: seriesIndex['rho'], dimension: 2, min: -0.55, max: 0.85, inRange: { color: rhoColours } }
	],
	graphic: graphics,
	series: series
};
myChart.setOption(option);
</script>
</body>
</html>
